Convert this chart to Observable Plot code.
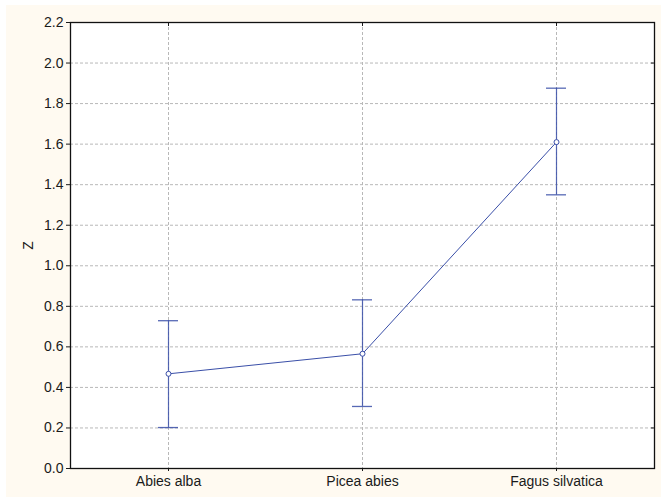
<!DOCTYPE html>
<html><head><meta charset="utf-8">
<script src="https://cdn.jsdelivr.net/npm/d3@7"></script>
<script src="https://cdn.jsdelivr.net/npm/@observablehq/plot@0.6"></script>
<style>
body{margin:0;background:#fff;}
#wrap{padding-left:6px;padding-top:5px;}
svg{background:#fffaf1;display:block;}
</style>
</head><body><div id="wrap"></div>
<script>
const species = ["Abies alba", "Picea abies", "Fagus silvatica"];
const means = [0.467, 0.566, 1.610];
const lower = [0.202, 0.306, 1.350];
const upper = [0.729, 0.832, 1.876];
const yTicks = [0,0.2,0.4,0.6,0.8,1.0,1.2,1.4,1.6,1.8,2.0,2.2];

const data = species.map((s,i)=>({s, m:means[i], lo:lower[i], hi:upper[i]}));
const blue = "#3a4fa8";
const capInset = 87;
const chart = Plot.plot({
  width: 655, height: 492,
  marginLeft: 64, marginRight: 7, marginTop: 17, marginBottom: 29,
  style: {fontFamily: "Liberation Sans, Arial, sans-serif", fontSize: "14px", color: "#1a1a1a", background: "#fffaf1"},
  x: {type: "band", domain: species, padding: 0, label: null},
  y: {domain: [0, 2.2], label: null},
  marks: [
    Plot.frame({fill: "white"}),
    Plot.gridY(yTicks, {stroke: "#b8b8b8", strokeOpacity: 1, strokeDasharray: "3,2"}),
    Plot.gridX(species, {stroke: "#b8b8b8", strokeOpacity: 1, strokeDasharray: "3,2"}),
    Plot.axisY({ticks: yTicks, tickSize: 4, tickPadding: 3, tickFormat: d => d.toFixed(1), label: "Z", labelAnchor: "center", labelArrow: "none", labelOffset: 47, fontSize: 14}),
    Plot.axisY({anchor: "right", ticks: yTicks, tickSize: -4, tickFormat: () => "", label: null}),
    Plot.axisX({tickSize: 3, tickPadding: 5, fontSize: 14, label: null}),
    Plot.axisX({anchor: "top", tickSize: -3, tickFormat: () => "", label: null}),
    Plot.ruleX(data, {x: "s", y1: "lo", y2: "hi", stroke: blue, strokeOpacity: 0.85, strokeWidth: 1.2}),
    Plot.tickY(data, {x: "s", y: "lo", stroke: blue, strokeOpacity: 0.85, strokeWidth: 1.3, insetLeft: capInset, insetRight: capInset}),
    Plot.tickY(data, {x: "s", y: "hi", stroke: blue, strokeOpacity: 0.85, strokeWidth: 1.3, insetLeft: capInset, insetRight: capInset}),
    Plot.line(data, {x: "s", y: "m", stroke: blue, strokeWidth: 1}),
    Plot.dot(data, {x: "s", y: "m", r: 2.5, fill: "white", stroke: blue, strokeWidth: 1}),
    Plot.frame({stroke: "#111", strokeWidth: 1.3})
  ]
});
document.getElementById("wrap").appendChild(chart);
</script></body></html>
